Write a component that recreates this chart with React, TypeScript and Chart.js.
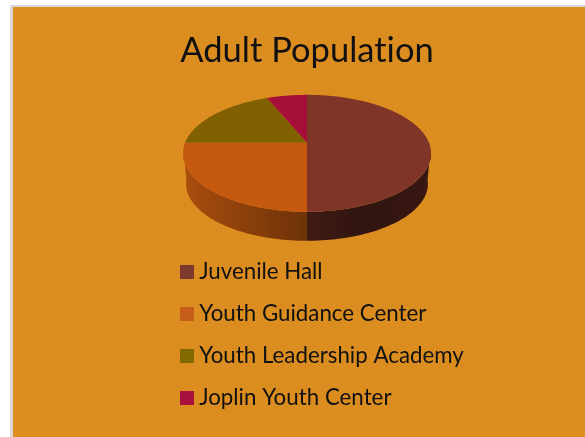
import React, { useEffect, useRef } from "react";
import { Chart, registerables, PieController, ArcElement } from "chart.js";

const categories = ["Juvenile Hall", "Youth Guidance Center", "Youth Leadership Academy", "Joplin Youth Center"];
const values = [8, 4, 3, 1];
const sliceColors = ["#7F3528", "#C4590F", "#806000", "#A50F39"];
const legendColors = ["#7F3A2E", "#C65D18", "#836A00", "#A8103E"];
// wall shading: [stop, brightness] pairs along the slice's horizontal extent
const wallShades = [
  [[0, 0.5], [0.45, 0.38], [1, 0.45]],
  [[0, 0.86], [1, 0.56]],
  [],
  [],
];

const TITLE = "Adult Population";
const BG = "#DC8D20";
const FONT = "Lato, Carlito, sans-serif";
const INK = "#111111";

// perspective of the tilted disc, in units of the library's outer radius (122px)
const K = 0.1795;
const Y_SCALE = 0.464;
const DEPTH = 30.7;
const BASE_SCALE = 0.975;
const CENTER_SHIFT = -15;

function shade(hex: string, f: number) {
  const n = parseInt(hex.slice(1), 16);
  const c = [(n >> 16) & 255, (n >> 8) & 255, n & 255].map((v) => Math.round(v * f));
  return `rgb(${c[0]},${c[1]},${c[2]})`;
}

class Arc3D extends (ArcElement as any) {
  static id = "arc3d";
  draw(ctx: CanvasRenderingContext2D) {
    const { x, y, startAngle, endAngle, outerRadius } = (this as any).getProps(
      ["x", "y", "startAngle", "endAngle", "outerRadius"],
      true
    );
    const r = outerRadius;
    const cy = y + CENTER_SHIFT;
    const top = (a: number): [number, number] => {
      const w = 1 - K * Math.sin(a);
      return [x + (r * Math.cos(a)) / w, cy + (r * Y_SCALE * Math.sin(a)) / w];
    };
    const base = (a: number): [number, number] => {
      const w = 1 - K * Math.sin(a);
      return [
        x + (BASE_SCALE * r * Math.cos(a)) / w,
        cy + DEPTH + (BASE_SCALE * r * Y_SCALE * Math.sin(a)) / w,
      ];
    };
    const color: string = (this as any).options.backgroundColor;
    const index = sliceColors.indexOf(color);
    const steps = 120;
    const angles: number[] = [];
    for (let i = 0; i <= steps; i++) angles.push(startAngle + ((endAngle - startAngle) * i) / steps);

    const front = angles.filter((a) => Math.sin(a) >= 0.1);
    const shades = wallShades[index] || [];
    if (front.length > 1 && shades.length) {
      const tp = front.map(top);
      const bp = front.map(base);
      const xs = [...tp, ...bp].map((p) => p[0]);
      const g = ctx.createLinearGradient(Math.min(...xs), 0, Math.max(...xs), 0);
      shades.forEach(([s, f]) => g.addColorStop(s, shade(color, f)));
      ctx.beginPath();
      tp.forEach((p, i) => (i ? ctx.lineTo(p[0], p[1]) : ctx.moveTo(p[0], p[1])));
      [...bp].reverse().forEach((p) => ctx.lineTo(p[0], p[1]));
      ctx.closePath();
      ctx.fillStyle = g;
      ctx.fill();
    }

    ctx.beginPath();
    ctx.moveTo(x, cy);
    angles.forEach((a) => {
      const p = top(a);
      ctx.lineTo(p[0], p[1]);
    });
    ctx.closePath();
    ctx.fillStyle = color;
    ctx.fill();
  }
}

class Pie3DController extends (PieController as any) {
  static id = "pie3d";
  static defaults = { dataElementType: "arc3d" };
}

Chart.register(...registerables, Arc3D as any, Pie3DController as any);

function swatch(color: string) {
  const c = document.createElement("canvas");
  c.width = 14;
  c.height = 14;
  const g = c.getContext("2d")!;
  g.fillStyle = color;
  g.fillRect(0, 0, 14, 14);
  return c;
}

const backgroundPlugin = {
  id: "pageBackground",
  beforeDraw(chart: any) {
    const { ctx, width, height } = chart;
    ctx.save();
    ctx.fillStyle = BG;
    ctx.fillRect(0, 0, width, height);
    ctx.restore();
    // a non-zero spacing turns off the "ti" ligature the reference does not have
    ctx.letterSpacing = "0.01px";
  },
  // the longest legend label runs past the narrow column the pie is centred in
  afterLayout(chart: any) {
    if (chart.legend) chart.legend.right = chart.width;
  },
};

export default function App() {
  const ref = useRef<HTMLCanvasElement>(null);
  useEffect(() => {
    const chart = new Chart(ref.current!, {
      type: "pie3d" as any,
      data: {
        labels: categories,
        datasets: [
          {
            data: values,
            backgroundColor: sliceColors,
            borderWidth: 0,
            radius: 122,
            clip: false,
          } as any,
        ],
      },
      plugins: [backgroundPlugin],
      options: {
        responsive: false,
        animation: false,
        layout: { padding: { left: 153.3, right: 137.3, top: 0, bottom: 18 } },
        plugins: {
          tooltip: { enabled: false },
          title: {
            display: true,
            text: TITLE,
            color: INK,
            font: { family: FONT, size: 34.5, weight: "normal" },
            padding: { top: 23.3, bottom: 3 },
          },
          legend: {
            display: true,
            position: "bottom",
            align: "start",
            maxWidth: 281,
            labels: {
              usePointStyle: true,
              pointStyleWidth: 2,
              boxHeight: 14,
              padding: 19.7,
              color: INK,
              font: { family: FONT, size: 22.3 },
              generateLabels: (c: any) =>
                c.data.labels.map((text: string, i: number) => ({
                  text,
                  index: i,
                  fontColor: INK,
                  pointStyle: swatch(legendColors[i]),
                  hidden: false,
                  lineWidth: 0,
                })),
            },
          },
        },
      } as any,
    });
    return () => chart.destroy();
  }, []);
  return (
    <div
      style={{
        position: "fixed",
        left: 0,
        top: 0,
        width: 585,
        height: 437,
        overflow: "hidden",
        background: "#fff",
      }}
    >
      <div
        style={{
          position: "absolute",
          left: 10,
          top: 5,
          width: 575,
          height: 432,
          background: "#D9D9D9",
        }}
      />
      <canvas
        ref={ref}
        width={572}
        height={430}
        style={{ position: "absolute", left: 13, top: 7, display: "block" }}
      />
    </div>
  );
}
